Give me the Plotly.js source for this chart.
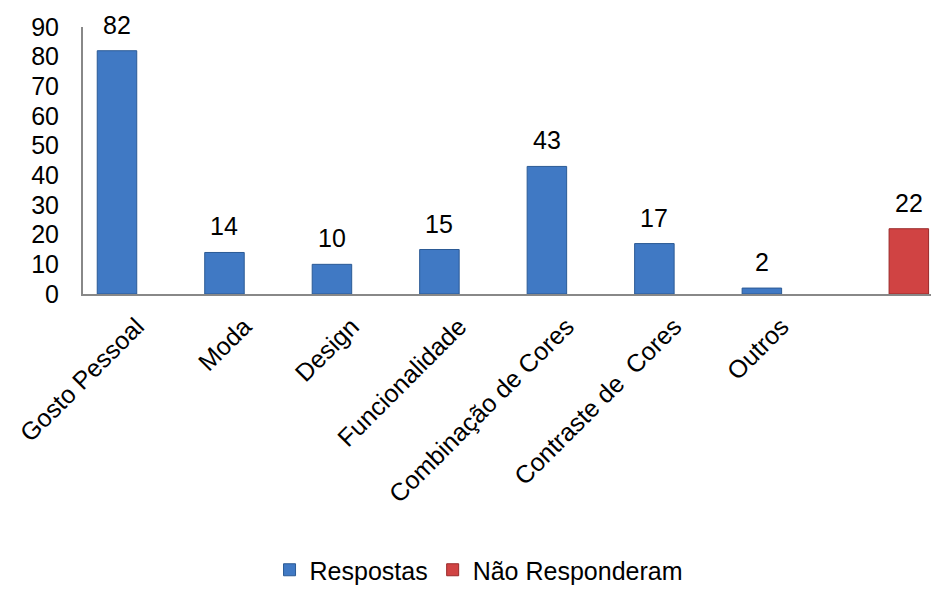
<!DOCTYPE html>
<html>
<head>
<meta charset="utf-8">
<script src="https://cdn.plot.ly/plotly-3.0.1.min.js"></script>
<style>html,body{margin:0;padding:0;background:#fff;}#chart{width:931px;height:593px;}</style>
</head>
<body>
<div id="chart"></div>
<script>
const categories = ["Gosto Pessoal", "Moda", "Design", "Funcionalidade", "Combinação de Cores", "Contraste de  Cores", "Outros", ""];
const respostas = [82, 14, 10, 15, 43, 17, 2, null];
const naoResponderam = [null, null, null, null, null, null, null, 22];
const yTicks = [0, 10, 20, 30, 40, 50, 60, 70, 80, 90];

const idx = categories.map((c, i) => i);
const font = "Liberation Sans, Arial, Helvetica, sans-serif";

const traces = [
  {
    type: "bar", name: "Respostas", x: idx, y: respostas,
    marker: {color: "#4079c4", line: {color: "#2b5a95", width: 1}},
    hoverinfo: "none"
  },
  {
    type: "bar", name: "Não Responderam", x: idx, y: naoResponderam,
    marker: {color: "#d04343", line: {color: "#9a2a2a", width: 1}},
    hoverinfo: "none"
  }
];

const annotations = [];
respostas.forEach((v, i) => {
  if (v !== null) annotations.push({x: i, y: v, xref: "x", yref: "y", text: String(v), showarrow: false,
    xanchor: "center", yanchor: "bottom", xshift: -19.75, yshift: 10, font: {family: font, size: 25, color: "#000"}});
});
naoResponderam.forEach((v, i) => {
  if (v !== null) annotations.push({x: i, y: v, xref: "x", yref: "y", text: String(v), showarrow: false,
    xanchor: "center", yanchor: "bottom", xshift: 19.75, yshift: 10, font: {family: font, size: 25, color: "#000"}});
});

const layout = {
  width: 931, height: 593,
  margin: {l: 83, r: 0, t: 27, b: 299, pad: 0},
  paper_bgcolor: "#fff", plot_bgcolor: "#fff",
  barmode: "group", bargap: 0.265, bargroupgap: 0,
  font: {family: font, color: "#000"},
  xaxis: {
    range: [-0.5, 7.39], tickmode: "array", tickvals: idx, ticktext: categories,
    tickangle: -45, tickfont: {family: font, size: 25, color: "#000"},
    showline: true, linecolor: "#888888", linewidth: 2, ticks: "", showgrid: false, zeroline: false,
    ticklabelstandoff: 6, fixedrange: true
  },
  yaxis: {
    range: [0, 90], tickmode: "array", tickvals: yTicks, ticktext: yTicks.map(String),
    tickfont: {family: font, size: 25, color: "#000"},
    showline: true, linecolor: "#888888", linewidth: 2, ticks: "", showgrid: false, zeroline: false,
    ticklabelstandoff: 17, fixedrange: true
  },
  showlegend: true,
  legend: {
    orientation: "h", xref: "container", yref: "container", x: 0.514, xanchor: "center",
    y: 0.0, yanchor: "bottom", font: {family: font, size: 25, color: "#000"},
    bgcolor: "rgba(0,0,0,0)"
  },
  annotations: annotations
};

Plotly.newPlot("chart", traces, layout, {staticPlot: true, displayModeBar: false});
</script>
</body>
</html>
